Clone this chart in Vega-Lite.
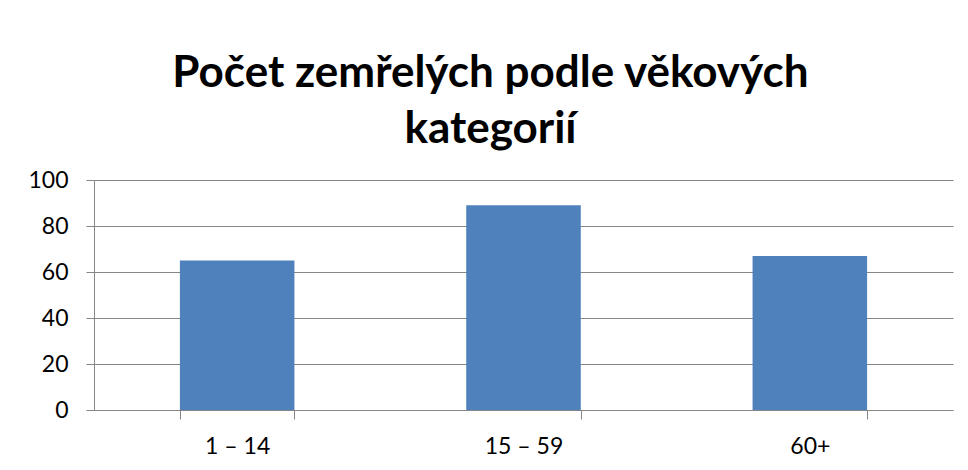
{
  "$schema": "https://vega.github.io/schema/vega-lite/v6.json",
  "width": 859,
  "height": 230,
  "padding": {"left": 27, "top": 52, "right": 16, "bottom": 5},
  "background": "white",
  "title": {
    "text": ["Počet zemřelých podle věkových", "kategorií"],
    "font": "Lato",
    "fontSize": 44,
    "fontWeight": "bold",
    "color": "#000000",
    "lineHeight": 56,
    "anchor": "middle",
    "frame": "bounds",
    "dx": 0,
    "offset": 17
  },
  "data": {
    "values": [
      {"kategorie": "1 – 14", "pocet": 65},
      {"kategorie": "15 – 59", "pocet": 89},
      {"kategorie": "60+", "pocet": 67}
    ]
  },
  "mark": {"type": "bar", "color": "#4F81BD"},
  "encoding": {
    "x": {
      "field": "kategorie",
      "type": "nominal",
      "sort": null,
      "title": null,
      "scale": {"paddingInner": 0.6, "paddingOuter": 0.3},
      "axis": {
        "labelAngle": 0,
        "tickBand": "extent",
        "tickSize": 9,
        "labelPadding": 16,
        "labelFont": "Lato",
        "labelFontSize": 23,
        "labelColor": "#000000",
        "domainColor": "#868686",
        "tickColor": "#868686",
        "grid": false
      }
    },
    "y": {
      "field": "pocet",
      "type": "quantitative",
      "title": null,
      "scale": {"domain": [0, 100]},
      "axis": {
        "values": [0, 20, 40, 60, 80, 100],
        "tickSize": 8,
        "labelPadding": 18,
        "labelFont": "Lato",
        "labelFontSize": 23,
        "labelColor": "#000000",
        "domainColor": "#868686",
        "tickColor": "#868686",
        "gridColor": "#868686",
        "gridOpacity": 1,
        "grid": true
      }
    }
  },
  "config": {"view": {"stroke": null}}
}
